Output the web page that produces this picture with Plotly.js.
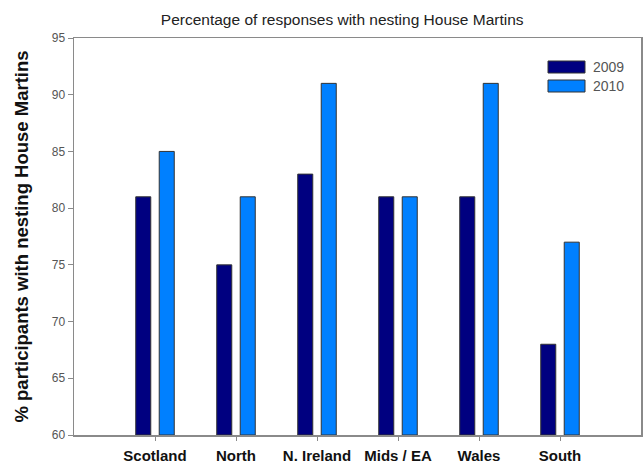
<!DOCTYPE html>
<html>
<head>
<meta charset="utf-8">
<script src="https://cdn.plot.ly/plotly-3.0.1.min.js"></script>
<style>html,body{margin:0;padding:0;background:#fff;}#chart{width:643px;height:463px;}</style>
</head>
<body>
<div id="chart"></div>
<script>
const categories = ["Scotland", "North", "N. Ireland", "Mids / EA", "Wales", "South"];
const values2009 = [81, 75, 83, 81, 81, 68];
const values2010 = [85, 81, 91, 81, 91, 77];
const seriesNames = ["2009", "2010"];
const yTicks = [60, 65, 70, 75, 80, 85, 90, 95];

const colors = ["#000080", "#0080ff"];
const xIdx = categories.map((c, i) => i);

const traces = [values2009, values2010].map((vals, k) => ({
  type: "bar",
  name: seriesNames[k],
  x: xIdx,
  y: vals.map(v => v - 60),
  base: 60,
  marker: {color: colors[k], line: {color: "#333333", width: 1}},
  showlegend: false,
  hoverinfo: "skip"
}));

const axisColor = "#8a8a8a";
const layout = {
  width: 643, height: 463,
  margin: {l: 74, r: 2, t: 38, b: 28},
  paper_bgcolor: "#fff", plot_bgcolor: "#fff",
  font: {family: "Liberation Sans, Arial, sans-serif", color: "#000"},
  barmode: "group",
  bargap: 0.42,
  bargroupgap: 0.36,
  title: {
    text: "Percentage of responses with nesting House Martins",
    font: {family: "Liberation Sans, Arial, sans-serif", size: 15.5, color: "#222"},
    xref: "paper", x: 0.473, xanchor: "center",
    yref: "container", y: 0.958, yanchor: "middle"
  },
  xaxis: {
    range: [-1, 6],
    tickmode: "array", tickvals: xIdx, ticktext: categories,
    ticks: "outside", ticklen: 4, tickcolor: axisColor, tickwidth: 1,
    ticklabelstandoff: 2,
    tickfont: {size: 15, color: "#111", weight: "bold"},
    showline: true, linecolor: axisColor, linewidth: 1.5, mirror: true,
    showgrid: false, zeroline: false, fixedrange: true
  },
  yaxis: {
    range: [60, 95],
    tickmode: "array", tickvals: yTicks,
    ticks: "outside", ticklen: 5, tickcolor: axisColor, tickwidth: 1,
    tickfont: {size: 12, color: "#555"},
    showline: true, linecolor: axisColor, linewidth: 1.5, mirror: true,
    showgrid: false, zeroline: false, fixedrange: true,
    title: {text: "% participants with nesting House Martins", font: {size: 18.5, color: "#111", weight: "bold"}, standoff: 18}
  },
  shapes: [],
  annotations: []
};

// legend drawn as swatches + labels in pixel-equivalent paper coordinates
const plotW = 643 - 74 - 2, plotH = 463 - 38 - 28;
const px = x => (x - 74) / plotW;
const py = y => 1 - (y - 38) / plotH;
const legendRows = [{y0: 61, y1: 73}, {y0: 80, y1: 92}];
seriesNames.forEach((n, k) => {
  layout.shapes.push({
    type: "rect", xref: "paper", yref: "paper",
    x0: px(548), x1: px(585), y0: py(legendRows[k].y1), y1: py(legendRows[k].y0),
    fillcolor: colors[k], line: {color: "#333", width: 1}
  });
  layout.annotations.push({
    xref: "paper", yref: "paper", x: px(591), y: py((legendRows[k].y0 + legendRows[k].y1) / 2),
    xanchor: "left", yanchor: "middle", showarrow: false,
    text: n, font: {size: 14, color: "#555"}
  });
});

Plotly.newPlot("chart", traces, layout, {displayModeBar: false, staticPlot: true});
</script>
</body>
</html>
